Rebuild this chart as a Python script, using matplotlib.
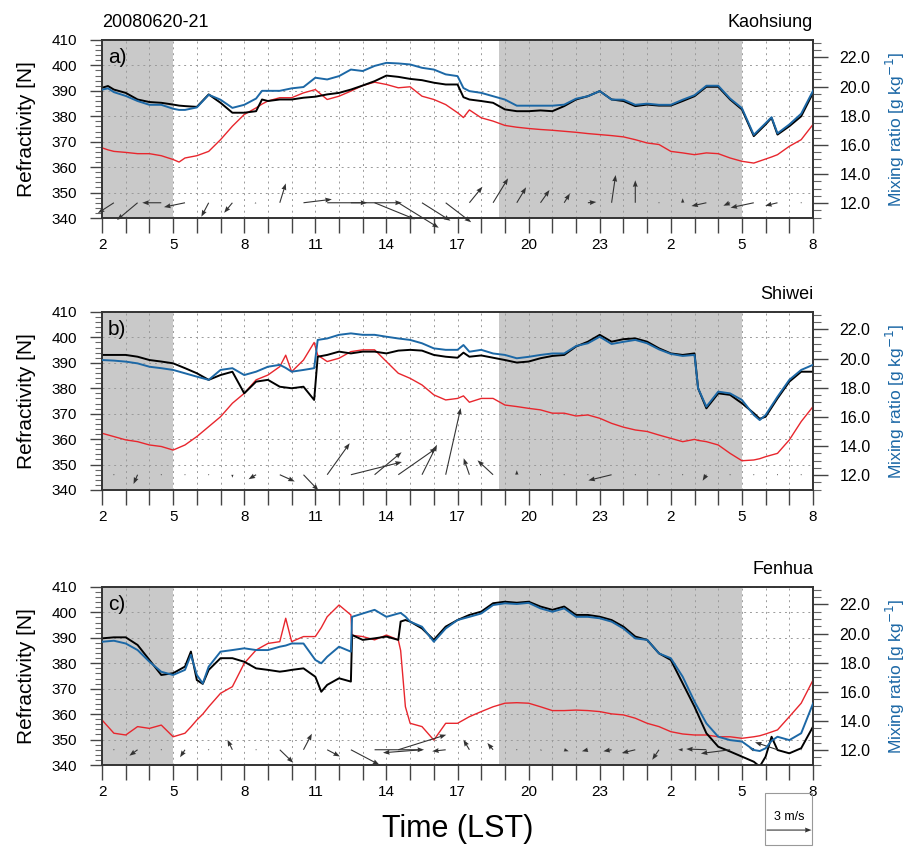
import numpy as np
import matplotlib
matplotlib.use('Agg')
import matplotlib.pyplot as plt
from matplotlib.ticker import FixedLocator, MultipleLocator, FuncFormatter, FormatStrFormatter
from matplotlib.patches import Rectangle

plt.rcParams['font.family'] = ['Liberation Sans', 'DejaVu Sans']

# ---- data (time in hours since 00 LST on day 1) ----
ta = [2, 2.25, 2.5, 3, 3.5, 4, 4.5, 5, 5.25, 5.5, 6, 6.5, 7, 7.5, 8, 8.5, 8.75, 9, 9.5, 10,
      10.5, 11, 11.5, 12, 12.5, 13, 13.5, 14, 14.5, 15, 15.5, 16, 16.5, 17, 17.25, 17.5, 18,
      18.5, 19, 19.5, 20, 20.5, 21, 21.5, 22, 22.5, 23, 23.5, 24, 24.5, 25, 25.5, 26, 26.5,
      27, 27.5, 28, 28.5, 29, 29.5, 30, 30.25, 30.5, 31, 31.5, 32]
black_a = [391.2, 391.9, 390.5, 389.2, 386.6, 385.6, 385.3, 384.6, 384.2, 384.0,
           383.7, 388.6, 385.3, 381.4, 381.4, 382.0, 386.6, 386.0, 386.6, 386.6,
           387.3, 387.7, 388.6, 389.2, 390.5, 392.1, 393.8, 396.0, 395.5, 394.7,
           394.2, 393.2, 392.5, 392.5, 387.5, 386.6, 386.0, 385.3, 382.7, 382.0,
           382.0, 382.3, 382.0, 384.0, 386.6, 387.9, 389.9, 386.6, 386.0, 384.0,
           384.6, 384.2, 384.2, 386.0, 387.9, 391.6, 391.6, 386.6, 382.7, 372.2,
           376.8, 379.4, 372.8, 376.1, 380.0, 389.2]
mix_a = [19.79, 19.88, 19.62, 19.36, 19.01, 18.75, 18.75, 18.48, 18.40, 18.40,
         18.57, 19.44, 19.10, 18.54, 18.75, 19.18, 19.71, 19.71, 19.71, 19.88,
         19.97, 20.61, 20.49, 20.72, 21.17, 21.07, 21.42, 21.63, 21.59, 21.52,
         21.29, 21.17, 20.84, 20.72, 19.90, 19.69, 19.57, 19.34, 19.11, 18.69,
         18.69, 18.69, 18.69, 18.76, 19.17, 19.34, 19.69, 19.11, 19.10, 18.75,
         18.83, 18.75, 18.75, 19.10, 19.41, 20.06, 20.06, 19.18, 18.52, 16.69,
         17.49, 17.90, 16.79, 17.40, 18.14, 19.71]
red_a = [367.6, 366.8, 366.2, 365.8, 365.3, 365.3, 364.5, 363.0, 362.0, 363.6,
         364.5, 366.2, 370.8, 376.1, 380.7, 383.3, 384.8, 386.0, 387.3, 387.3,
         389.2, 390.5, 386.6, 387.9, 389.9, 392.1, 393.4, 392.5, 391.2, 391.6,
         387.9, 386.6, 384.6, 381.4, 379.5, 382.5, 379.4, 378.1, 376.4, 375.7,
         375.2, 374.8, 374.5, 374.1, 373.7, 373.2, 372.8, 372.4, 371.9, 370.8,
         369.5, 368.9, 366.2, 365.6, 364.9, 365.6, 365.3, 363.6, 362.3, 361.6,
         363.2, 364.0, 364.9, 368.2, 370.8, 376.8]

tb = [2, 2.5, 3, 3.5, 4, 4.5, 5, 5.5, 6, 6.5, 7, 7.5, 8, 8.5, 9, 9.5, 9.75, 10, 10.5, 10.95,
      11.1, 11.5, 12, 12.5, 13, 13.5, 14, 14.5, 15, 15.5, 16, 16.5, 17, 17.25, 17.5, 18,
      18.5, 19, 19.5, 20, 20.5, 21, 21.5, 22, 22.5, 23, 23.5, 24, 24.5, 25, 25.5, 26, 26.5,
      27, 27.15, 27.5, 28, 28.5, 29, 29.5, 29.75, 30, 30.5, 31, 31.5, 32]
black_b = [393.1, 393.1, 393.1, 392.4, 391.1, 390.5, 389.8, 387.9, 385.9, 383.3,
           385.2, 386.5, 378.0, 382.6, 383.3, 380.6, 380.3, 380.0, 380.6, 375.4,
           392.4, 393.1, 394.4, 393.7, 394.4, 394.4, 393.7, 394.8, 395.1, 394.8,
           393.1, 392.4, 392.0, 394.0, 392.4, 392.9, 392.0, 391.1, 390.1, 390.5,
           391.8, 392.7, 393.1, 396.4, 398.3, 401.0, 398.3, 399.3, 399.6, 398.3,
           395.7, 393.7, 393.1, 393.7, 380.0, 372.1, 378.0, 377.4, 374.1, 370.2,
           368.0, 368.8, 376.0, 382.6, 386.5, 386.5]
mix_b = [19.90, 19.86, 19.79, 19.67, 19.44, 19.34, 19.22, 18.99, 18.76, 18.54,
         19.22, 19.34, 18.87, 19.10, 19.44, 19.57, 19.36, 19.10, 19.22, 19.34,
         21.28, 21.38, 21.63, 21.73, 21.63, 21.63, 21.50, 21.38, 21.28, 21.05,
         20.70, 20.60, 20.60, 20.93, 20.47, 20.60, 20.35, 20.25, 20.02, 20.12,
         20.25, 20.35, 20.35, 20.86, 21.05, 21.50, 21.00, 21.15, 21.28, 21.05,
         20.63, 20.32, 20.18, 20.25, 17.96, 16.70, 17.73, 17.61, 17.16, 16.13,
         15.78, 16.13, 17.38, 18.54, 19.22, 19.57]
red_b = [362.3, 361.0, 359.7, 359.0, 357.7, 357.1, 355.7, 357.7, 361.0, 364.9,
         368.8, 374.1, 378.0, 383.3, 385.2, 388.5, 393.0, 386.5, 391.1, 398.0,
         393.0, 390.5, 391.8, 394.4, 395.1, 395.1, 390.5, 385.9, 383.9, 381.3,
         377.4, 375.4, 376.0, 377.0, 374.5, 376.0, 376.0, 373.4, 372.8, 372.1,
         371.5, 370.2, 370.2, 369.1, 369.5, 368.2, 366.2, 364.7, 363.6, 363.0,
         361.6, 360.3, 359.0, 359.9, 359.5, 359.0, 357.7, 354.4, 351.5, 351.8,
         352.3, 353.1, 354.4, 359.7, 366.9, 372.8]

tc = [2, 2.5, 3, 3.5, 4, 4.5, 5, 5.5, 5.75, 6, 6.25, 6.5, 7, 7.5, 8, 8.5, 9, 9.5, 9.75, 10,
      10.5, 11, 11.25, 11.5, 12, 12.5, 12.55, 13, 13.5, 14, 14.5, 14.6, 14.8, 15, 15.5, 16,
      16.5, 17, 17.5, 18, 18.5, 19, 19.5, 20, 20.5, 21, 21.5, 22, 22.5, 23, 23.5, 24, 24.5,
      25, 25.5, 26, 26.5, 27, 27.5, 28, 28.5, 29, 29.5, 29.75, 30, 30.25, 30.5, 31, 31.5, 32]
black_c = [389.8, 390.2, 390.2, 387.2, 381.3, 375.4, 376.1, 378.7, 384.6, 373.4,
           371.9, 377.4, 382.0, 382.0, 380.6, 378.0, 377.4, 376.7, 377.0, 377.4,
           378.0, 374.7, 368.8, 371.5, 374.1, 372.8, 391.1, 389.2, 389.8, 390.5,
           389.2, 396.4, 397.0, 396.4, 393.7, 389.2, 394.4, 397.0, 399.0, 400.3,
           403.6, 404.2, 403.8, 404.2, 402.3, 401.0, 402.3, 399.0, 399.0, 398.3,
           397.0, 394.4, 390.5, 389.2, 383.9, 381.3, 372.1, 362.9, 352.5, 347.2,
           345.3, 343.3, 341.3, 339.4, 343.3, 351.1, 345.9, 344.6, 346.6, 355.1]
mix_c = [19.44, 19.51, 19.32, 18.87, 18.07, 17.38, 17.16, 17.51, 18.54, 17.16,
         16.58, 17.73, 18.76, 18.87, 18.99, 18.87, 18.87, 19.10, 19.18, 19.32,
         19.32, 18.19, 17.96, 18.41, 19.10, 18.76, 21.15, 21.38, 21.63, 21.15,
         21.38, 21.42, 21.17, 20.82, 20.47, 19.44, 20.35, 20.93, 21.15, 21.38,
         21.96, 22.08, 22.03, 22.11, 21.73, 21.50, 21.73, 21.15, 21.15, 21.05,
         20.82, 20.35, 19.67, 19.57, 18.64, 18.31, 17.04, 15.33, 13.84, 12.92,
         12.69, 12.59, 12.01, 11.94, 12.13, 12.64, 12.92, 12.69, 13.16, 15.20]
red_c = [357.7, 352.5, 351.8, 355.1, 354.4, 355.7, 351.1, 352.5, 355.0, 357.7,
         360.0, 362.9, 368.2, 370.8, 380.0, 385.2, 387.8, 388.5, 397.7, 388.5,
         390.5, 390.5, 394.0, 398.3, 402.9, 399.0, 391.0, 390.5, 389.2, 391.1,
         389.2, 385.0, 362.9, 356.4, 355.1, 349.8, 356.4, 356.4, 359.0, 361.0,
         362.9, 364.3, 364.5, 364.3, 362.9, 361.4, 361.4, 361.6, 361.4, 361.0,
         360.1, 359.7, 358.4, 356.4, 355.1, 353.1, 352.2, 351.8, 351.8, 351.1,
         351.1, 350.5, 351.1, 351.5, 352.2, 353.0, 353.8, 359.0, 364.3, 373.4]

# hourly winds (m/s)
wind_t = [2.5, 3.5, 4.5, 5.5, 6.5, 7.5, 8.5, 9.5, 10.5, 11.5, 12.5, 13.5, 14.5, 15.5, 16.5,
          17.5, 18.5, 19.5, 20.5, 21.5, 22.5, 23.5, 24.5, 25.5, 26.5, 27.5, 28.5, 29.5, 30.5, 31.5]
u_a = [-1.07, -1.37, -1.27, -1.4, -0.49, -0.55, -0.1, 0.4, 1.89, 2.67, 3.4, 2.7, 2.7, 1.9, 1.7,
       0.87, 1.0, 0.62, 0.6, 0.38, 0.56, 0.27, 0.0, 0.0, 0.0, -1.0, -0.45, -1.55, -0.82, 0.0]
v_a = [-0.69, -1.15, 0.0, -0.29, -0.93, -0.67, -0.05, 1.29, 0.23, 0.0, 0.0, -1.1, -1.67, -1.2, -1.3,
       1.07, 1.63, 1.03, 0.85, 0.62, 0.05, 1.85, 1.5, 0.0, 0.3, -0.22, -0.2, -0.33, -0.2, 0.0]
u_b = [0.0, -0.27, 0.0, 0.0, 0.0, 0.0, -0.5, 1.0, 1.0, 1.5, 3.4, 1.8, 2.55, 1.0, 1.0,
       -0.38, -1.04, 0.0, 0.0, 0.0, 0.0, -1.55, 0.0, 0.0, 0.0, -0.25, 0.0, 0.0, 0.0, 0.0]
v_b = [0.0, -0.62, 0.0, 0.0, 0.0, -0.2, -0.3, -0.45, -1.05, 2.1, 0.85, 1.5, 1.78, 2.0, 4.45,
       1.1, 0.96, 0.3, 0.0, 0.0, 0.0, -0.38, 0.0, 0.0, 0.0, -0.4, 0.0, 0.0, 0.0, 0.0]
u_c = [0.0, -0.55, 0.0, -0.33, 0.0, -0.33, 0.0, 0.9, 0.56, 0.85, 1.9, 3.3, 3.2, -2.6, -0.9,
       -0.4, -0.38, 0.0, 0.1, 0.3, -0.4, -0.55, -0.9, -0.45, -0.3, -1.35, -1.95, -0.3, -1.5, 0.0]
v_c = [0.0, -0.4, 0.0, -0.5, 0.0, 0.67, 0.0, -0.87, 1.07, -0.45, -1.0, 0.0, 1.0, -0.2, -0.1,
       0.67, 0.45, 0.0, -0.05, -0.1, -0.1, -0.1, -0.22, -0.67, 0.0, 0.05, -0.25, 0.1, 0.5, 0.0]
wind_level = 346

night_spans = [(2, 5), (18.75, 29)]
hours = list(range(2, 33))

BLUE = '#1c68a6'
RED = '#e8262d'
SHADE = '#c9c9c9'

fig = plt.figure(figsize=(9.07, 8.47), dpi=100)


def hour_label(x, pos):
    h = int(round(x))
    return str(h % 24) if (h - 2) % 3 == 0 else ''


def draw_panel(bottom, t, black, red, mix, u, v, tag, site, date=None):
    ax = fig.add_axes([0.1125, bottom, 0.7839, 0.2102])
    ax.set_axisbelow(True)
    for s, e in night_spans:
        ax.axvspan(s, e, color=SHADE, lw=0, zorder=0)
    ax.plot(t, red, color=RED, lw=1.0, zorder=3)
    ax.plot(t, black, color='black', lw=1.4, zorder=4)
    q = ax.quiver(wind_t, [wind_level] * len(wind_t), u, v, pivot='tail', angles='uv',
                  scale_units='inches', scale=6.67, units='inches', width=0.011,
                  headwidth=4.5, headlength=6, headaxislength=5.5,
                  color='#333333', zorder=5, clip_on=False)
    ax.set_xlim(2, 32)
    ax.set_ylim(340, 410)
    ax.xaxis.set_major_locator(FixedLocator(hours))
    ax.xaxis.set_major_formatter(FuncFormatter(hour_label))
    ax.yaxis.set_major_locator(MultipleLocator(10))
    ax.yaxis.set_minor_locator(MultipleLocator(2))
    ax.grid(True, which='major', color='#9a9a9a', linestyle=(0, (2, 4)), lw=0.7)
    ax.tick_params(axis='x', direction='out', length=10.5, width=1, pad=4,
                   labelsize=11, color='#444444')
    ax.tick_params(axis='y', which='major', direction='out', length=9, width=1, pad=9,
                   labelsize=11, color='#444444')
    ax.tick_params(axis='y', which='minor', direction='out', length=5, width=0.8,
                   color='#666666')
    ax.set_ylabel('Refractivity [N]', fontsize=15)
    ax.yaxis.set_label_coords(-0.093, 0.5)
    ax.text(0.008, 0.955, tag, transform=ax.transAxes, ha='left', va='top', fontsize=15)
    ax.text(1.0, 1.073, site, transform=ax.transAxes, ha='right', va='baseline', fontsize=13)
    if date:
        ax.text(0.0, 1.073, date, transform=ax.transAxes, ha='left', va='baseline', fontsize=13)

    ax2 = ax.twinx()
    ax2.plot(t, mix, color=BLUE, lw=1.4, zorder=3)
    ax2.set_ylim(10.98, 23.2)
    ax2.yaxis.set_major_locator(MultipleLocator(2))
    ax2.yaxis.set_minor_locator(MultipleLocator(0.5))
    ax2.yaxis.set_major_formatter(FormatStrFormatter('%.1f'))
    ax2.tick_params(axis='y', which='major', direction='out', length=10.5, width=1, pad=8.5,
                    labelsize=11.5, color='#444444')
    ax2.tick_params(axis='y', which='minor', direction='out', length=5.5, width=0.8,
                    color='#666666')
    ax2.set_ylabel('Mixing ratio [g kg$^{-1}$]', fontsize=12.5, color=BLUE)
    ax2.yaxis.set_label_coords(1.100, 0.5)
    for a in (ax, ax2):
        for sp in a.spines.values():
            sp.set_color('#333333')
            sp.set_linewidth(1.2)
    return ax, q


draw_panel(0.7426, ta, black_a, red_a, mix_a, u_a, v_a, 'a)', 'Kaohsiung', date='20080620-21')
draw_panel(0.4215, tb, black_b, red_b, mix_b, u_b, v_b, 'b)', 'Shiwei')
ax_c, q_c = draw_panel(0.0968, tc, black_c, red_c, mix_c, u_c, v_c, 'c)', 'Fenhua')

fig.text(458 / 907, 1 - 829 / 847, 'Time (LST)', ha='center', va='center', fontsize=22)

# reference vector box
fig.patches.append(Rectangle((0.8434, 0.0024), 0.0518, 0.0614, transform=fig.transFigure,
                             fill=False, edgecolor='#999999', lw=0.8))
ax_c.quiverkey(q_c, X=0.870, Y=0.020, U=3, label='3 m/s', labelpos='N',
               coordinates='figure', labelsep=0.07, fontproperties={'size': 9})

fig.savefig('out.png', dpi=100)
